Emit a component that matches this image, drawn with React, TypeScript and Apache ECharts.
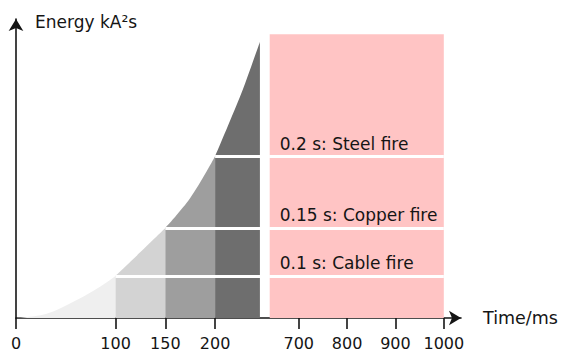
import React, { useEffect, useRef } from "react";
import * as echarts from "echarts";

// Time axis ticks (ms); the axis is broken between 200 and 700 ms
const timeTicks = [0, 100, 150, 200, 700, 800, 900, 1000];

// Arc energy curve: time (ms) and energy (relative kA²s)
const curveTime = [0, 30, 61, 84, 100, 125, 150, 175, 200, 225, 235, 245];
const curveEnergy = [0, 1.3, 5.9, 10.2, 13.8, 21.6, 29.5, 39.3, 53, 72.5, 81.3, 90.5];

// Shaded time bands under the curve
const bandEdges = [0, 100, 150, 200, 245];
const bandColors = ["#efefef", "#d3d3d3", "#9e9e9e", "#6e6e6e"];

// Fire thresholds
const fireTimes = [100, 150, 200];
const fireEnergy = [13.8, 29.5, 53];
const fireLabels = ["0.1 s: Cable fire", "0.15 s: Copper fire", "0.2 s: Steel fire"];

// Highlighted zone on the right of the break
const zoneTime = [640, 1000];
const zoneEnergy = 93;

const FONT = "DejaVu Sans";
const INK = "#151515";

// Piecewise mapping from real time to axis position (broken scale)
function toAxis(t: number): number {
  if (t <= 300) return t;
  return 284 + (t - 700) * 0.4858;
}

export default function App() {
  const ref = useRef<HTMLDivElement>(null);

  useEffect(() => {
    document.body.style.margin = "0";
    if (!ref.current) return;
    const chart = echarts.init(ref.current, undefined, { renderer: "svg" });

    const tickPos = timeTicks.map(toAxis);
    const labelFor = (v: number) => {
      let best = 0;
      for (let i = 1; i < tickPos.length; i++) {
        if (Math.abs(tickPos[i] - v) < Math.abs(tickPos[best] - v)) best = i;
      }
      return String(timeTicks[best]);
    };

    const bandSeries = bandColors.map((color, i) => {
      const lo = bandEdges[i];
      const hi = bandEdges[i + 1];
      const data: number[][] = [];
      curveTime.forEach((t, k) => {
        if (t >= lo && t <= hi) data.push([toAxis(t), curveEnergy[k]]);
      });
      return {
        type: "line",
        data,
        smooth: 0.35,
        symbol: "none",
        lineStyle: { width: 0 },
        areaStyle: { color, opacity: 1 },
        silent: true,
        z: 2,
      };
    });

    const lineSegments: any[] = [];
    fireTimes.forEach((t, i) => {
      lineSegments.push([
        { coord: [toAxis(t), fireEnergy[i]] },
        { coord: [toAxis(zoneTime[0]), fireEnergy[i]] },
      ]);
      lineSegments.push([
        {
          coord: [toAxis(zoneTime[0]), fireEnergy[i]],
          label: {
            show: true,
            formatter: fireLabels[i],
            position: "insideStartTop",
            distance: [10, 4],
            fontFamily: FONT,
            fontSize: 17,
            color: INK,
          },
        },
        { coord: [toAxis(zoneTime[1]), fireEnergy[i]] },
      ]);
    });

    const axisLineStyle = { color: INK, width: 1.6 };

    chart.setOption({
      animation: false,
      grid: {
        left: 16,
        top: 19,
        width: 445,
        height: 299,
        containLabel: false,
        outerBoundsMode: "none",
      } as any,
      xAxis: {
        type: "value",
        min: 0,
        max: 447,
        splitLine: { show: false },
        name: "Time/ms",
        nameLocation: "end",
        nameGap: 22,
        nameTextStyle: { fontFamily: FONT, fontSize: 17.5, color: INK },
        axisLine: {
          show: true,
          symbol: ["none", "arrow"],
          symbolSize: [11, 12],
          lineStyle: axisLineStyle,
        },
        axisTick: {
          show: true,
          length: 11,
          customValues: tickPos,
          lineStyle: axisLineStyle,
        },
        axisLabel: {
          show: true,
          customValues: tickPos,
          formatter: (v: number) => labelFor(v),
          margin: 17,
          fontFamily: FONT,
          fontSize: 16,
          color: INK,
        },
      },
      yAxis: {
        type: "value",
        min: 0,
        max: 98,
        splitLine: { show: false },
        axisTick: { show: false },
        axisLabel: { show: false },
        name: "Energy kA²s",
        nameLocation: "end",
        nameGap: -3,
        nameTextStyle: {
          fontFamily: FONT,
          fontSize: 17,
          color: INK,
          align: "left",
          verticalAlign: "middle",
          padding: [0, 0, 0, 19],
        },
        axisLine: {
          show: true,
          symbol: ["none", "arrow"],
          symbolSize: [11, 12],
          lineStyle: axisLineStyle,
        },
      },
      series: [
        {
          type: "line",
          data: [],
          silent: true,
          z: 1,
          markArea: {
            silent: true,
            itemStyle: { color: "#ffc4c4", opacity: 1 },
            data: [
              [
                { xAxis: toAxis(zoneTime[0]), yAxis: 0 },
                { xAxis: toAxis(zoneTime[1]), yAxis: zoneEnergy },
              ],
            ],
          },
        },
        ...bandSeries,
        {
          type: "line",
          data: [],
          silent: true,
          z: 5,
          markLine: {
            silent: true,
            symbol: ["none", "none"],
            label: { show: false },
            lineStyle: { color: "#ffffff", width: 3, type: "solid" },
            data: lineSegments,
          },
        },
      ],
    });

    return () => chart.dispose();
  }, []);

  return <div ref={ref} style={{ width: 564, height: 356 }} />;
}
